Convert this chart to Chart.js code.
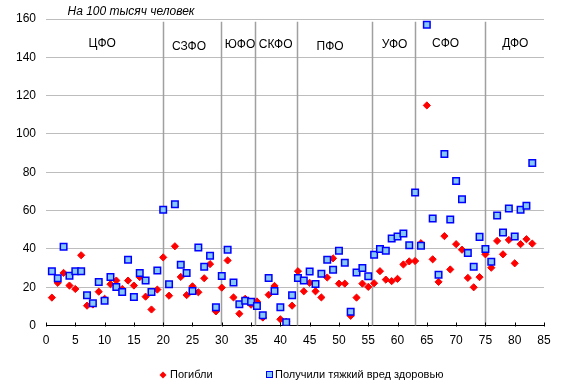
<!DOCTYPE html>
<html>
<head>
<meta charset="utf-8">
<script src="https://cdn.jsdelivr.net/npm/chart.js@4/dist/chart.umd.min.js"></script>
<style>
  html, body { margin: 0; padding: 0; background: #fff; }
  #wrap { width: 561px; height: 391px; }
</style>
</head>
<body>
<div id="wrap"><canvas id="scatterRegions"></canvas></div>
<script>
let regionIndex = [];
for (let i = 1; i <= 83; i++) regionIndex.push(i);

let killed = [14.6, 22.3, 27.5, 20.9, 19.1, 36.7, 10.4, 11, 17.7, 14,
  21.6, 23.5, 19.1, 23.5, 20.9, 25.3, 15.1, 8.4, 18.8, 35.6,
  15.6, 41.4, 25.4, 15.9, 20.5, 17.4, 24.7, 32.1, 7.4, 19.8,
  34, 14.7, 6.2, 14, 10.9, 12.6, 4.2, 16.1, 20.7, 3.3,
  2, 10.4, 28.4, 17.9, 22.3, 17.9, 14.7, 25.1, 35.1, 21.9,
  21.9, 5.1, 14.6, 21.9, 20.2, 22.1, 28.4, 24, 23.2, 24.4,
  31.9, 33.5, 33.7, 43, 114.9, 34.6, 22.8, 46.7, 29.3, 42.5,
  39.6, 24.9, 20, 25.3, 37.2, 30.2, 44.2, 37.2, 44.7, 32.5,
  42.5, 45.1, 42.8];

let injured = [28.4, 24.7, 41.2, 26, 28.4, 28.4, 15.9, 11.7, 22.8, 13,
  25.4, 20.2, 17.5, 34.4, 14.9, 27.5, 23.5, 17.5, 28.7, 60.5,
  21.6, 63.3, 31.7, 27.5, 18.1, 40.7, 30.7, 36.5, 9.6, 25.9,
  39.6, 22.5, 11.2, 13, 12.5, 10.2, 5.4, 24.9, 18.1, 9.6,
  1.7, 15.9, 24.9, 23.5, 28.2, 21.7, 27, 34.4, 29.1, 39.1,
  32.8, 7.2, 27.7, 30, 25.8, 37, 40, 39.1, 45.4, 46.5,
  48.1, 41.9, 69.5, 41.7, 157, 55.9, 26.5, 89.6, 55.4, 75.4,
  65.9, 37.9, 30.7, 46.3, 40, 33.3, 57.4, 48.6, 61.1, 46.5,
  60.5, 62.6, 84.9];

let districts = ['ЦФО', 'СЗФО', 'ЮФО', 'СКФО', 'ПФО', 'УФО', 'СФО', 'ДФО'];
let districtBounds = [20, 29.8, 35.6, 42.8, 55.7, 63, 75];
let xTicks = [0, 5, 10, 15, 20, 25, 30, 35, 40, 45, 50, 55, 60, 65, 70, 75, 80, 85];
let yTicks = [0, 20, 40, 60, 80, 100, 120, 140, 160];
let seriesNames = ['Погибли', 'Получили тяжкий вред здоровью'];

// where the district names sit (in axis units)
let districtLabelX = [9.6, 24.4, 33.1, 39.2, 48.5, 59.5, 68.2, 80.1];
let districtLabelY = [147, 145.5, 146.5, 146.5, 145.5, 146.5, 147, 147];

const FONT = '"Liberation Sans", Arial, sans-serif';
const red = '#ff0000';
const blueEdge = '#0000ff';
const blueFill = '#87c8fa';

function toPoints(ys) {
  return regionIndex.map((x, i) => ({ x: x, y: ys[i] }));
}

const extras = {
  id: 'extras',
  beforeDatasetsDraw(chart) {
    const c = chart.ctx;
    const xs = chart.scales.x, ys = chart.scales.y;
    c.save();
    c.strokeStyle = '#a0a0a0';
    c.lineWidth = 1.5;
    districtBounds.forEach(b => {
      const px = Math.round(xs.getPixelForValue(b)) + 0.5;
      c.beginPath();
      c.moveTo(px, ys.getPixelForValue(158.6));
      c.lineTo(px, ys.getPixelForValue(0));
      c.stroke();
    });
    c.fillStyle = '#000';
    c.font = '12px ' + FONT;
    c.textAlign = 'center';
    c.textBaseline = 'middle';
    districts.forEach((d, i) => {
      c.fillText(d, xs.getPixelForValue(districtLabelX[i]), ys.getPixelForValue(districtLabelY[i]));
    });
    c.restore();
  },
  afterDraw(chart) {
    const c = chart.ctx;
    const xs = chart.scales.x, ys = chart.scales.y;
    const base = Math.round(ys.getPixelForValue(0)) + 0.5;
    c.save();
    // inward tick marks on x axis
    c.strokeStyle = '#000';
    c.lineWidth = 1;
    xTicks.forEach(t => {
      const px = Math.round(xs.getPixelForValue(t)) + 0.5;
      c.beginPath();
      c.moveTo(px, base);
      c.lineTo(px, base - 4);
      c.stroke();
    });
    // heading
    c.fillStyle = '#000';
    c.font = 'italic 12px ' + FONT;
    c.textAlign = 'center';
    c.textBaseline = 'middle';
    c.fillText('На 100 тысяч человек', 131, 12);
    // legend
    c.font = '11px ' + FONT;
    c.textAlign = 'left';
    const ly = 375;
    c.fillStyle = red;
    c.beginPath();
    c.moveTo(163, ly - 3.5); c.lineTo(166.5, ly); c.lineTo(163, ly + 3.5); c.lineTo(159.5, ly);
    c.closePath(); c.fill();
    c.fillStyle = '#000';
    c.fillText(seriesNames[0], 170, ly);
    c.fillStyle = blueFill;
    c.strokeStyle = blueEdge;
    c.lineWidth = 1;
    c.fillRect(266.5, ly - 3.5, 6, 6);
    c.strokeRect(266.5, ly - 3.5, 6, 6);
    c.fillStyle = '#000';
    c.fillText(seriesNames[1], 275, ly);
    c.restore();
  }
};

let ctx = document.getElementById('scatterRegions').getContext('2d');

const scatterRegions = new Chart(ctx,
  {
    type: 'scatter',
    data:
    {
      datasets:
        [{
          label: seriesNames[0],
          data: toPoints(killed),
          pointStyle: 'rectRot',
          pointRadius: 3.6,
          pointBackgroundColor: red,
          pointBorderColor: red,
          pointBorderWidth: 1,
          order: 2
        },
        {
          label: seriesNames[1],
          data: toPoints(injured),
          pointStyle: 'rect',
          pointRadius: 4.6,
          pointBackgroundColor: blueFill,
          pointBorderColor: blueEdge,
          pointBorderWidth: 1.5,
          order: 1
        }]
    },
    options:
    {
      responsive: true,
      maintainAspectRatio: false,
      animation: false,
      layout: { padding: { top: 19, right: 17, bottom: 35, left: 6 } },
      plugins:
      {
        legend: { display: false },
        tooltip: { enabled: false }
      },
      scales:
      {
        x:
        {
          type: 'linear',
          min: 0,
          max: 85,
          afterBuildTicks: (axis) => { axis.ticks = xTicks.map(v => ({ value: v })); },
          grid: { display: false, drawTicks: false },
          border: { display: true, color: '#000', width: 1 },
          ticks: { color: '#000', padding: 8, font: { family: FONT, size: 12 } }
        },
        y:
        {
          min: 0,
          max: 160,
          afterBuildTicks: (axis) => { axis.ticks = yTicks.map(v => ({ value: v })); },
          grid: { color: '#bdbdbd', lineWidth: 1, drawTicks: false },
          border: { display: false },
          ticks: { color: '#000', padding: 10, font: { family: FONT, size: 12 } }
        }
      }
    },
    plugins: [extras]
  })
</script>
</body>
</html>
